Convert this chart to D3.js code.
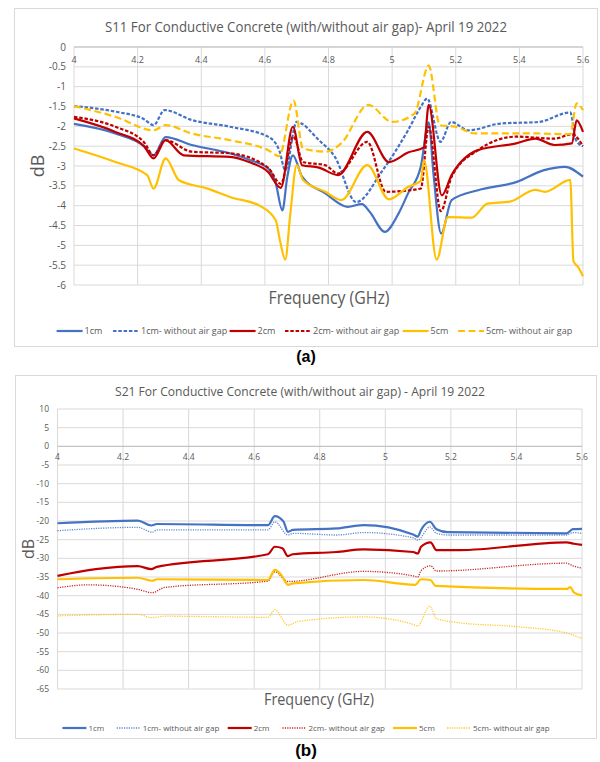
<!DOCTYPE html>
<html>
<head>
<meta charset="utf-8">
<script src="https://cdn.jsdelivr.net/npm/d3@7"></script>
<style>
  body { margin: 0; background: #fff; }
  svg { display: block; font-family: "Open Sans", "Noto Sans", sans-serif; }
</style>
</head>
<body>
<svg id="fig" width="600" height="762"></svg>
<script>
// ---- data: S11 (dB) vs frequency (GHz)
var s11_1cm = [[4.00,-1.94],[4.13,-2.18],[4.22,-2.5],[4.25,-2.73],[4.288,-2.27],[4.37,-2.47],[4.49,-2.68],[4.55,-2.84],[4.61,-3.06],[4.634,-3.43],[4.655,-4.12],[4.67,-3.3],[4.688,-2.73],[4.717,-3.27],[4.79,-3.69],[4.86,-4.03],[4.905,-3.96],[4.93,-4.16],[4.977,-4.66],[5.02,-4.2],[5.05,-3.69],[5.09,-3.02],[5.115,-1.9],[5.13,-3.2],[5.154,-4.7],[5.187,-3.86],[5.27,-3.61],[5.392,-3.4],[5.475,-3.11],[5.543,-3.02],[5.6,-3.27]];
var s11_1cm_nogap = [[4.00,-1.49],[4.13,-1.63],[4.22,-1.82],[4.25,-1.97],[4.285,-1.59],[4.37,-1.84],[4.49,-2.01],[4.61,-2.26],[4.645,-2.6],[4.664,-3.1],[4.70,-1.89],[4.77,-2.35],[4.82,-2.77],[4.887,-3.91],[4.97,-3.11],[5.05,-2.1],[5.09,-1.51],[5.11,-1.3],[5.152,-2.39],[5.185,-1.89],[5.24,-2.1],[5.34,-1.93],[5.46,-1.89],[5.56,-1.65],[5.578,-2.35],[5.6,-2.5]];
var s11_2cm = [[4.00,-1.8],[4.13,-2.14],[4.22,-2.5],[4.25,-2.81],[4.288,-2.35],[4.345,-2.73],[4.49,-2.77],[4.55,-2.9],[4.61,-3.15],[4.65,-3.55],[4.688,-2.01],[4.717,-2.98],[4.77,-3.04],[4.83,-3.23],[4.922,-2.14],[4.99,-2.9],[5.05,-2.66],[5.1,-2.53],[5.115,-1.46],[5.156,-3.74],[5.187,-3.23],[5.27,-2.6],[5.39,-2.43],[5.45,-2.31],[5.51,-2.47],[5.565,-2.43],[5.58,-1.85],[5.6,-2.14]];
var s11_2cm_nogap = [[4.00,-1.76],[4.13,-2.01],[4.22,-2.4],[4.25,-2.73],[4.288,-2.35],[4.37,-2.64],[4.49,-2.68],[4.61,-3.04],[4.65,-3.45],[4.69,-2.26],[4.72,-2.9],[4.79,-2.98],[4.83,-3.19],[4.922,-2.39],[4.98,-3.65],[5.09,-3.57],[5.115,-2.01],[5.153,-4.14],[5.187,-3.27],[5.27,-2.6],[5.39,-2.26],[5.51,-2.31],[5.565,-2.2],[5.6,-2.5]];
var s11_5cm = [[4.00,-2.56],[4.13,-2.9],[4.23,-3.23],[4.25,-3.57],[4.288,-2.81],[4.33,-3.36],[4.42,-3.57],[4.49,-3.78],[4.59,-4.03],[4.634,-4.37],[4.648,-4.9],[4.664,-5.36],[4.68,-4.2],[4.70,-2.98],[4.72,-3.35],[4.79,-3.65],[4.84,-3.86],[4.922,-2.98],[4.99,-3.84],[5.05,-3.53],[5.09,-3.37],[5.10,-2.85],[5.14,-5.36],[5.175,-4.29],[5.25,-4.3],[5.3,-3.95],[5.37,-3.9],[5.45,-3.6],[5.48,-3.65],[5.56,-3.35],[5.57,-5.4],[5.585,-5.55],[5.6,-5.78]];
var s11_5cm_nogap = [[4.00,-1.49],[4.13,-1.76],[4.25,-2.1],[4.288,-1.97],[4.37,-2.18],[4.49,-2.35],[4.61,-2.6],[4.645,-2.75],[4.69,-1.35],[4.72,-2.56],[4.79,-2.64],[4.84,-2.43],[4.925,-1.46],[5.0,-1.89],[5.07,-1.68],[5.115,-0.47],[5.15,-1.97],[5.2,-2.01],[5.26,-2.18],[5.45,-2.18],[5.56,-2.2],[5.58,-1.42],[5.6,-1.59]];

// ---- data: S21 (dB) vs frequency (GHz)
var s21_1cm = [[4.00,-20.6],[4.245,-19.9],[4.286,-21.2],[4.303,-20.8],[4.642,-21.1],[4.663,-18.7],[4.689,-20.1],[4.703,-22.9],[4.718,-22.4],[4.852,-22.0],[4.934,-21.1],[5.085,-23.6],[5.099,-24.2],[5.109,-22.4],[5.136,-20.2],[5.156,-22.2],[5.191,-23.0],[5.553,-23.3],[5.572,-22.2],[5.6,-22.1]];
var s21_1cm_nogap = [[4.00,-22.6],[4.245,-21.7],[4.289,-23.0],[4.303,-22.4],[4.642,-22.4],[4.663,-20.2],[4.703,-23.75],[4.718,-23.3],[4.852,-23.75],[4.934,-23.1],[5.085,-24.5],[5.099,-25.1],[5.136,-21.6],[5.156,-23.3],[5.191,-23.75],[5.553,-23.75],[5.572,-23.1],[5.6,-23.3]];
var s21_2cm = [[4.00,-34.7],[4.117,-32.9],[4.245,-32.1],[4.286,-32.9],[4.303,-32.3],[4.642,-28.9],[4.663,-26.9],[4.686,-27.3],[4.703,-29.4],[4.718,-28.9],[4.85,-28.3],[4.934,-27.6],[5.085,-28.3],[5.099,-28.7],[5.109,-26.9],[5.138,-25.7],[5.156,-27.8],[5.225,-27.8],[5.553,-25.7],[5.576,-26.1],[5.6,-26.4]];
var s21_2cm_nogap = [[4.00,-37.9],[4.093,-37.1],[4.245,-38.3],[4.289,-39.2],[4.327,-37.8],[4.642,-36.1],[4.663,-33.6],[4.703,-36.2],[4.934,-33.5],[5.085,-34.7],[5.099,-35.0],[5.109,-33.3],[5.138,-32.0],[5.156,-33.4],[5.553,-31.3],[5.572,-32.0],[5.6,-32.6]];
var s21_5cm = [[4.00,-35.6],[4.245,-35.2],[4.289,-36.0],[4.303,-35.6],[4.642,-35.8],[4.663,-33.1],[4.683,-34.5],[4.703,-37.1],[4.718,-36.7],[4.934,-35.8],[5.091,-37.1],[5.109,-35.6],[5.138,-35.8],[5.153,-37.4],[5.553,-38.2],[5.564,-37.7],[5.576,-39.2],[5.6,-39.9]];
var s21_5cm_nogap = [[4.00,-45.4],[4.245,-45.0],[4.289,-45.9],[4.327,-45.5],[4.642,-45.8],[4.663,-43.8],[4.703,-47.9],[4.735,-46.9],[4.934,-45.7],[5.085,-47.7],[5.099,-48.1],[5.135,-42.8],[5.156,-46.1],[5.22,-47.2],[5.4,-48.3],[5.553,-50.0],[5.6,-51.5]];

var seriesNames = ["1cm", "1cm- without air gap", "2cm", "2cm- without air gap", "5cm", "5cm- without air gap"];
var freqTicks = [4, 4.2, 4.4, 4.6, 4.8, 5, 5.2, 5.4, 5.6];
var s11Ticks = [0, -0.5, -1, -1.5, -2, -2.5, -3, -3.5, -4, -4.5, -5, -5.5, -6];
var s21Ticks = [10, 5, 0, -5, -10, -15, -20, -25, -30, -35, -40, -45, -50, -55, -60, -65];

var blue = "#4472C4", red = "#C00000", yellow = "#FFC000";
var grid = "#D9D9D9", txt = "#595959";

var svg = d3.select("#fig");

function drawChart(c) {
  var g = svg.append("g");

  g.append("rect")
    .attr("x", c.box[0] + 0.5).attr("y", c.box[1] + 0.5)
    .attr("width", c.box[2] - c.box[0]).attr("height", c.box[3] - c.box[1])
    .attr("fill", "#fff").attr("stroke", grid).attr("stroke-width", 1);

  var x = d3.scaleLinear().domain([4, 5.6]).range([c.left, c.right]);
  var y = d3.scaleLinear().domain(c.yDomain).range([c.top, c.bottom]);

  // gridlines
  g.selectAll(".hg").data(c.yTicks).enter().append("line")
    .attr("x1", c.left).attr("x2", c.right)
    .attr("y1", function(d) { return y(d); }).attr("y2", function(d) { return y(d); })
    .attr("stroke", grid).attr("stroke-width", 1);
  g.selectAll(".vg").data(freqTicks).enter().append("line")
    .attr("x1", function(d) { return x(d); }).attr("x2", function(d) { return x(d); })
    .attr("y1", c.top).attr("y2", c.bottom)
    .attr("stroke", grid).attr("stroke-width", 1);
  g.append("line")
    .attr("x1", c.left).attr("x2", c.right)
    .attr("y1", y(0)).attr("y2", y(0))
    .attr("stroke", "#BFBFBF").attr("stroke-width", 1);

  // tick labels
  g.selectAll(".yl").data(c.yTicks).enter().append("text")
    .attr("x", c.yLabelX).attr("y", function(d) { return y(d) + c.yFont * 0.35; })
    .attr("text-anchor", "end").attr("font-size", c.yFont).attr("fill", txt)
    .text(function(d) { return d; });
  g.selectAll(".xl").data(freqTicks).enter().append("text")
    .attr("x", function(d) { return x(d); }).attr("y", c.xLabelY)
    .attr("text-anchor", "middle").attr("font-size", c.xFont).attr("fill", txt)
    .text(function(d) { return d; });

  // series
  var line = d3.line()
    .x(function(d) { return x(d[0]); })
    .y(function(d) { return y(d[1]); })
    .curve(d3.curveMonotoneX);
  c.series.forEach(function(s) {
    g.append("path")
      .attr("d", line(s.data))
      .attr("fill", "none").attr("stroke", s.color)
      .attr("stroke-width", s.width).attr("stroke-dasharray", s.dash)
      .attr("stroke-opacity", s.opacity || 1)
      .attr("stroke-linecap", s.cap || "butt");
  });

  // titles
  g.append("text")
    .attr("x", c.title.x).attr("y", c.title.y)
    .attr("text-anchor", "middle").attr("font-size", c.title.size).attr("fill", txt)
    .attr("textLength", c.title.w).attr("lengthAdjust", "spacingAndGlyphs")
    .text(c.title.text);
  g.append("text")
    .attr("x", c.xTitle.x).attr("y", c.xTitle.y)
    .attr("text-anchor", "middle").attr("font-size", c.xTitle.size).attr("fill", txt)
    .attr("textLength", c.xTitle.w).attr("lengthAdjust", "spacingAndGlyphs")
    .text("Frequency (GHz)");
  g.append("text")
    .attr("transform", "translate(" + c.yTitle.x + "," + c.yTitle.y + ") rotate(-90)")
    .attr("text-anchor", "middle").attr("font-size", c.yTitle.size).attr("fill", txt)
    .text("dB");

  // legend
  c.series.forEach(function(s, i) {
    var lx = c.legend.xs[i];
    g.append("line")
      .attr("x1", lx).attr("x2", lx + c.legend.len)
      .attr("y1", c.legend.y).attr("y2", c.legend.y)
      .attr("stroke", s.color).attr("stroke-width", s.width)
      .attr("stroke-dasharray", s.dash).attr("stroke-opacity", s.opacity || 1);
    g.append("text")
      .attr("x", lx + c.legend.len + 2).attr("y", c.legend.y + c.legend.size * 0.35)
      .attr("font-size", c.legend.size).attr("fill", txt)
      .text(seriesNames[i]);
  });

  svg.append("text")
    .attr("x", c.tag.x).attr("y", c.tag.y)
    .attr("text-anchor", "middle").attr("font-size", c.tag.size)
    .attr("font-weight", "bold").attr("fill", "#000")
    .attr("font-family", "Liberation Sans, Arial, sans-serif")
    .text(c.tag.text);
}

drawChart({
  box: [14, 8, 597, 346],
  left: 74, right: 583, top: 47, bottom: 285,
  yDomain: [0, -6], yTicks: s11Ticks,
  yLabelX: 66, yFont: 10, xLabelY: 63, xFont: 9,
  title: { text: "S11 For Conductive Concrete (with/without air gap)- April 19 2022", x: 306, y: 32, w: 402, size: 14 },
  xTitle: { x: 329, y: 304, w: 121, size: 18 },
  yTitle: { x: 44, y: 166, size: 18 },
  legend: { y: 331, len: 26, size: 9, xs: [56.6, 113, 229.6, 285, 402.6, 458] },
  tag: { text: "(a)", x: 306, y: 362, size: 16 },
  series: [
    { data: s11_1cm, color: blue, width: 2.2, dash: null },
    { data: s11_1cm_nogap, color: blue, width: 2.2, dash: "3.5 1.8" },
    { data: s11_2cm, color: red, width: 2.2, dash: null },
    { data: s11_2cm_nogap, color: red, width: 2.2, dash: "3.5 1.8" },
    { data: s11_5cm, color: yellow, width: 2.2, dash: null },
    { data: s11_5cm_nogap, color: yellow, width: 2.2, dash: "7 3.5" }
  ]
});

drawChart({
  box: [15, 375, 596, 738],
  left: 57.5, right: 582, top: 409, bottom: 689,
  yDomain: [10, -65], yTicks: s21Ticks,
  yLabelX: 49, yFont: 8.5, xLabelY: 460, xFont: 8.5,
  title: { text: "S21 For Conductive Concrete (with/without air gap) - April 19 2022", x: 300, y: 396, w: 370, size: 13 },
  xTitle: { x: 319, y: 705, w: 110, size: 16 },
  yTitle: { x: 34, y: 549, size: 16 },
  legend: { y: 728, len: 24, size: 8, xs: [62.4, 116.7, 227.7, 282.4, 393, 447] },
  tag: { text: "(b)", x: 306, y: 756, size: 17 },
  series: [
    { data: s21_1cm, color: blue, width: 2.2, dash: null },
    { data: s21_1cm_nogap, color: blue, width: 1.3, dash: "1.2 1.2", opacity: 0.85 },
    { data: s21_2cm, color: red, width: 2.2, dash: null },
    { data: s21_2cm_nogap, color: red, width: 1.3, dash: "1.2 1.2", opacity: 0.85 },
    { data: s21_5cm, color: yellow, width: 2.2, dash: null },
    { data: s21_5cm_nogap, color: yellow, width: 1.3, dash: "1.2 1.2", opacity: 0.85 }
  ]
});
</script>
</body>
</html>
